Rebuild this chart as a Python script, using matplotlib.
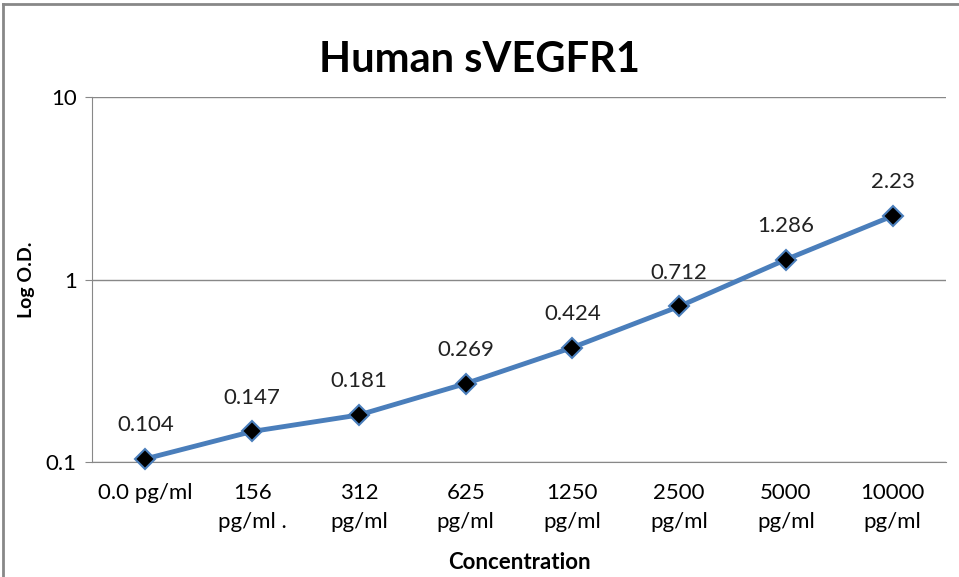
import numpy as np
import matplotlib.pyplot as plt
from matplotlib.lines import Line2D

plt.rcParams['font.family'] = ['Lato', 'DejaVu Sans']

categories = ['0.0 pg/ml', '156\npg/ml .', '312\npg/ml', '625\npg/ml', '1250\npg/ml',
              '2500\npg/ml', '5000\npg/ml', '10000\npg/ml']
od_values = [0.104, 0.147, 0.181, 0.269, 0.424, 0.712, 1.286, 2.23]
value_labels = ['0.104', '0.147', '0.181', '0.269', '0.424', '0.712', '1.286', '2.23']

fig = plt.figure(figsize=(9.59, 5.77), dpi=100)
ax = fig.add_axes([92 / 959, 1 - 462 / 577, (946 - 92) / 959, (462 - 97) / 577])

x = np.arange(len(categories))
ax.plot(x, od_values, color='#4A7EBB', lw=3.5, zorder=3)
ax.plot(x, od_values, ls='none', marker='D', ms=10, mfc='black', mec='#4A7EBB', mew=1.5,
        zorder=4, clip_on=False)

for xi, v, lab in zip(x, od_values, value_labels):
    ax.annotate(lab, (xi, v), xytext=(0, 17), textcoords='offset points',
                ha='center', va='bottom', fontsize=16, color='#222222')

ax.set_yscale('log')
ax.set_ylim(0.1, 10)
ax.set_xlim(-0.5, len(categories) - 0.5)
ax.set_yticks([0.1, 1, 10])
ax.set_yticklabels(['0.1', '1', '10'])
ax.yaxis.set_minor_locator(plt.NullLocator())
ax.set_xticks(x)
ax.set_xticklabels(categories, fontsize=16, linespacing=1.6)
ax.tick_params(axis='x', length=0, pad=15)
ax.tick_params(axis='y', length=5, color='#888888', labelsize=16, pad=6)

ax.grid(axis='y', color='#888888', lw=1)
for s in ['top', 'right']:
    ax.spines[s].set_visible(False)
ax.spines['left'].set_color('#888888')
ax.spines['bottom'].set_color('#888888')

ax.set_ylabel('Log O.D.', fontsize=14, fontweight='bold', labelpad=8)
ax.set_xlabel('Concentration', fontsize=16, fontweight='bold', labelpad=14)
fig.text(0.5, 1 - 60 / 577, 'Human sVEGFR1', ha='center', va='center',
         fontsize=30, fontweight='bold')

# outer chart frame
fig.add_artist(Line2D([3 / 959, 1], [1 - 4 / 577] * 2, transform=fig.transFigure, color='#888888', lw=2))
fig.add_artist(Line2D([3 / 959] * 2, [0, 1 - 4 / 577], transform=fig.transFigure, color='#888888', lw=2))

fig.savefig('out.png', dpi=100)
